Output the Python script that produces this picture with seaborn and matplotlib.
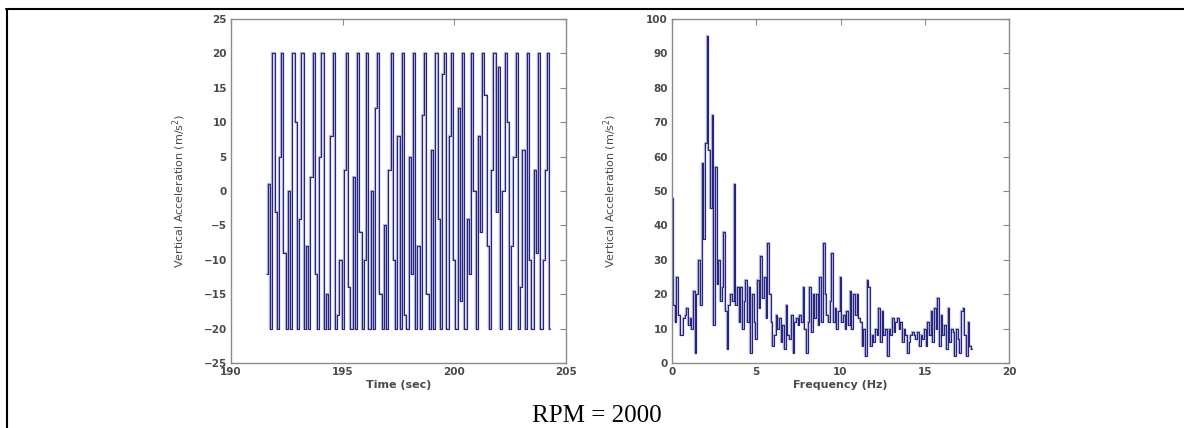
import numpy as np
import pandas as pd
import matplotlib
matplotlib.use("Agg")
import matplotlib.pyplot as plt
from matplotlib.lines import Line2D
import seaborn as sns

# ---------------- data ----------------
time_start = 191.6
time_step = 0.1
accel_time = [
    -12, 1, -20, 20, -3, -20, 5, 20, -9, -20,
    0, -20, 20, 10, -20, -4, 20, -20, -8, -20,
    2, 20, -12, -20, 5, 20, -20, -15, -20, 8,
    20, -20, -18, -10, -20, 3, 20, -14, -20, 2,
    -20, 20, -6, -20, -10, 20, -20, 0, -20, 12,
    20, -15, -20, -5, -20, 3, 20, -10, -20, 8,
    -20, 20, -18, -20, 5, -12, 20, -20, -8, -20,
    11, 20, -15, -20, 6, -20, 20, -4, -20, 17,
    20, -20, 8, 20, -10, -20, 12, -16, 20, -20,
    -4, -12, 20, 0, -20, 8, -6, 20, 14, -8,
    -20, 3, 20, -3, 18, -20, 0, 20, 10, -20,
    -8, 5, 20, -20, -14, 6, -20, 20, -10, -20,
    3, -9, 20, -20, -10, 3, 20, -20,
]

freq_step = 0.1
accel_freq = [
    48, 17, 12, 25, 14, 8, 8, 13, 14, 16,
    11, 13, 10, 21, 3, 20, 30, 17, 58, 36,
    64, 95, 62, 45, 72, 11, 57, 23, 30, 18,
    22, 38, 15, 4, 17, 20, 18, 52, 17, 22,
    12, 22, 10, 18, 24, 12, 22, 3, 20, 12,
    7, 24, 16, 31, 19, 25, 13, 35, 20, 12,
    5, 8, 14, 10, 13, 6, 11, 4, 17, 8,
    7, 14, 3, 12, 13, 11, 14, 12, 22, 10,
    3, 12, 22, 9, 20, 13, 20, 11, 25, 12,
    35, 20, 14, 12, 18, 32, 12, 16, 10, 15,
    25, 12, 14, 10, 15, 11, 21, 10, 20, 14,
    20, 13, 12, 5, 10, 2, 24, 22, 5, 8,
    6, 10, 8, 16, 6, 15, 8, 10, 2, 10,
    8, 13, 9, 12, 13, 10, 12, 6, 10, 8,
    3, 6, 8, 9, 8, 7, 9, 5, 8, 7,
    10, 5, 12, 8, 15, 6, 16, 10, 19, 5,
    14, 8, 11, 4, 16, 6, 10, 9, 2, 10,
    7, 3, 15, 16, 8, 2, 12, 5, 4,
]

caption = "RPM = 2000"
ylabel = "Vertical Acceleration (m/s$^2$)"
xlabel_left = "Time (sec)"
xlabel_right = "Frequency (Hz)"
left_xticks = [190, 195, 200, 205]
left_yticks = [-25, -20, -15, -10, -5, 0, 5, 10, 15, 20, 25]
right_xticks = [0, 5, 10, 15, 20]
right_yticks = [0, 10, 20, 30, 40, 50, 60, 70, 80, 90, 100]

df_time = pd.DataFrame({
    "t": time_start + time_step * np.arange(len(accel_time)),
    "a": accel_time,
})
df_freq = pd.DataFrame({
    "f": freq_step * np.arange(len(accel_freq)),
    "a": accel_freq,
})

# ---------------- style ----------------
sns.set_style("white")
plt.rcParams["font.family"] = ["DejaVu Sans"]

line_color = "#26267e"
halo_color = "#b6b6da"
spine_color = "#8a8a8a"
tick_color = "#4a4a4a"

fig = plt.figure(figsize=(11.84, 4.28), dpi=100)
ax1 = fig.add_axes([0.1951, 0.1519, 0.2829, 0.8037])
ax2 = fig.add_axes([0.5676, 0.1519, 0.2846, 0.8037])

for ax, df, x in ((ax1, df_time, "t"), (ax2, df_freq, "f")):
    sns.lineplot(data=df, x=x, y="a", ax=ax, color=halo_color,
                 linewidth=1.7, sort=False, estimator=None, drawstyle="steps-mid")
    sns.lineplot(data=df, x=x, y="a", ax=ax, color=line_color,
                 linewidth=0.8, sort=False, estimator=None, drawstyle="steps-mid")

def style(ax, xlim, ylim, xt, yt, xl, ylab_x):
    ax.set_xlim(*xlim)
    ax.set_ylim(*ylim)
    ax.set_xticks(xt)
    ax.set_yticks(yt)
    for s in ax.spines.values():
        s.set_visible(True)
        s.set_color(spine_color)
        s.set_linewidth(1.0)
    ax.tick_params(direction="in", length=4, width=0.8, color=spine_color,
                   top=True, right=True, labelsize=7.5, labelcolor=tick_color,
                   pad=3)
    for lab in ax.get_xticklabels() + ax.get_yticklabels():
        lab.set_fontweight("bold")
    ax.set_xlabel(xl, fontsize=8, color=tick_color, fontweight="bold")
    ax.set_ylabel(ylabel, fontsize=8, color=tick_color,
                  family=["Liberation Sans Narrow", "DejaVu Sans"])
    ax.xaxis.set_label_coords(0.5, -0.05)
    ax.yaxis.set_label_coords(ylab_x, 0.5)

style(ax1, (190, 205), (-25, 25), left_xticks, left_yticks, xlabel_left, -0.128)
style(ax2, (0, 20), (0, 100), right_xticks, right_yticks, xlabel_right, -0.157)

# table-like border
fig.add_artist(Line2D([0.005, 1.0], [0.978, 0.978], transform=fig.transFigure,
                      color="black", linewidth=1.5))
fig.add_artist(Line2D([0.0055, 0.0055], [0.0, 0.978], transform=fig.transFigure,
                      color="black", linewidth=1.5))

fig.text(0.504, 0.013, caption, ha="center", va="baseline", fontsize=18,
         family=["Liberation Serif", "DejaVu Serif"], color="black")

fig.savefig("out.png", dpi=100)
